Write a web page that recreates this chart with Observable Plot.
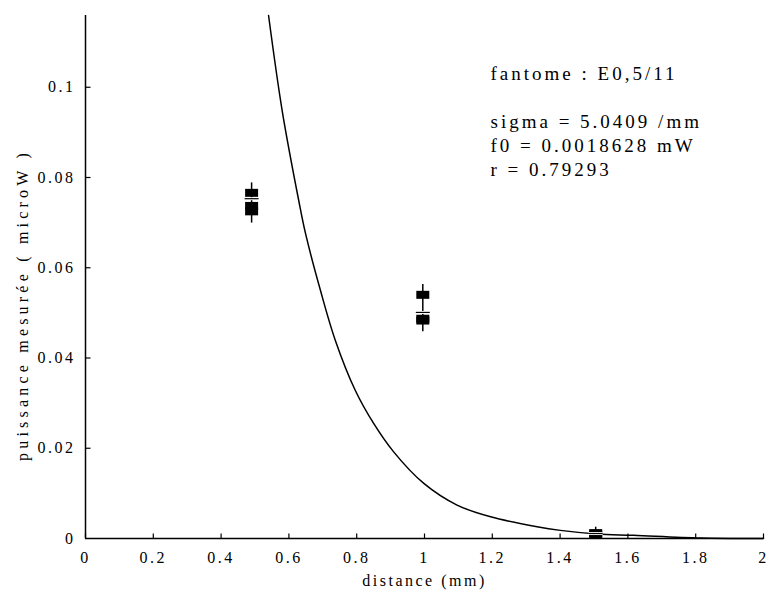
<!DOCTYPE html>
<html>
<head>
<meta charset="utf-8">
<script src="https://cdn.jsdelivr.net/npm/d3@7"></script>
<script src="https://cdn.jsdelivr.net/npm/@observablehq/plot@0.6"></script>
<style>
  html, body { margin: 0; padding: 0; background: #fff; }
  #chart svg, #chart svg text { font-family: "Liberation Serif", "Times New Roman", serif !important; }
  #chart svg text { letter-spacing: 2.5px; }
</style>
</head>
<body>
<div id="chart"></div>
<script>
// Fitted curve
const curveX = [0.540, 0.580, 0.629, 0.649, 0.693, 0.737, 0.796, 0.850, 0.909, 0.998, 1.096, 1.195, 1.332, 1.401, 1.509, 1.617, 1.814, 2.0];
const curveY = [0.1159, 0.0949, 0.0749, 0.0676, 0.0550, 0.0439, 0.0328, 0.0255, 0.0192, 0.0122, 0.0074, 0.0048, 0.0026, 0.0018, 0.0010, 0.0007, 0.0001, 0.0];

// Measured points (squares)
const measX = [0.49, 0.49, 0.49, 0.995, 0.995, 0.995, 1.505, 1.505];
const measY = [0.0766, 0.0737, 0.0725, 0.0540, 0.0487, 0.0483, 0.0012, 0.0009];

// Means with error bars
const meanX = [0.49, 0.995, 1.505];
const meanY = [0.0753, 0.0501, 0.0011];
const errLo = [0.0699, 0.0458, 0.0];
const errHi = [0.0788, 0.0563, 0.0025];

// Ticks
const xTicks = [0, 0.2, 0.4, 0.6, 0.8, 1, 1.2, 1.4, 1.6, 1.8, 2];
const yTicks = [0, 0.02, 0.04, 0.06, 0.08, 0.1];

const xLabel = "distance (mm)";
const yLabel = "puissance mesurée ( microW )";
const annotation = ["fantome : E0,5/11", "", "sigma = 5.0409 /mm", "f0 = 0.0018628 mW", "r = 0.79293"];

const curve = curveX.map((x, i) => ({x, y: curveY[i]}));
const meas = measX.map((x, i) => ({x, y: measY[i]}));
const means = meanX.map((x, i) => ({x, y: meanY[i], lo: errLo[i], hi: errHi[i]}));

const squareSym = {draw(ctx) { ctx.rect(-6.5, -4, 13, 8); }};
const hLineSym = {draw(ctx) { ctx.moveTo(-7, 0); ctx.lineTo(7, 0); }};
const xTickSym = {draw(ctx) { ctx.moveTo(0, 0); ctx.lineTo(0, -5); }};
const yTickSym = {draw(ctx) { ctx.moveTo(0, 0); ctx.lineTo(5, 0); }};

const fmt = d3.format("~g");
const serif = "Liberation Serif";

const chart = Plot.plot({
  width: 769,
  height: 592,
  marginLeft: 85,
  marginRight: 6,
  marginTop: 15,
  marginBottom: 54,
  style: {fontFamily: serif, fontSize: "16px", color: "#000", background: "#fff"},
  x: {domain: [0, 2]},
  y: {domain: [0, 0.1159]},
  marks: [
    Plot.axisX({ticks: xTicks, tickSize: 0, tickPadding: 13, tickFormat: fmt, label: null, fontSize: 16}),
    Plot.axisY({ticks: yTicks, tickSize: 0, tickPadding: 10, tickFormat: fmt, label: null, fontSize: 16}),
    Plot.dot(xTicks, {x: d => d, y: 0, symbol: xTickSym, stroke: "#000", strokeWidth: 1.2, fill: "none"}),
    Plot.dot(yTicks.slice(1), {x: 0, y: d => d, symbol: yTickSym, stroke: "#000", strokeWidth: 1.2, fill: "none"}),
    Plot.ruleY([0], {stroke: "#000", strokeWidth: 1.5}),
    Plot.ruleX([0], {stroke: "#000", strokeWidth: 1.5}),
    Plot.line(curve, {x: "x", y: "y", stroke: "#000", strokeWidth: 1.5, curve: "catmull-rom"}),
    Plot.ruleX(means, {x: "x", y1: "lo", y2: "hi", stroke: "#000", strokeWidth: 1.5}),
    Plot.dot(meas, {x: "x", y: "y", symbol: squareSym, fill: "#000", stroke: "none"}),
    Plot.dot(means, {x: "x", y: "y", symbol: hLineSym, stroke: "#fff", strokeWidth: 3, fill: "none"}),
    Plot.dot(means, {x: "x", y: "y", symbol: hLineSym, stroke: "#000", strokeWidth: 1.2, fill: "none"}),
    Plot.text([xLabel], {frameAnchor: "bottom", dy: 47, text: d => d, fontSize: 16}),
    Plot.text([annotation.join("\n")], {frameAnchor: "top-left", dx: 405, dy: 47.5, text: d => d, textAnchor: "start", lineAnchor: "top", lineHeight: 1.26, fontSize: 19, className: "annot"})
  ]
});

// rotated y-axis title
d3.select(chart).append("text")
  .attr("transform", "translate(28,305) rotate(-90)")
  .attr("text-anchor", "middle")
  .attr("font-size", 16)
  .attr("fill", "#000")
  .style("letter-spacing", "4.2px")
  .text(yLabel);

d3.select(chart).selectAll(".annot text, .annot tspan").style("letter-spacing", "3px");

document.getElementById("chart").appendChild(chart);
</script>
</body>
</html>
